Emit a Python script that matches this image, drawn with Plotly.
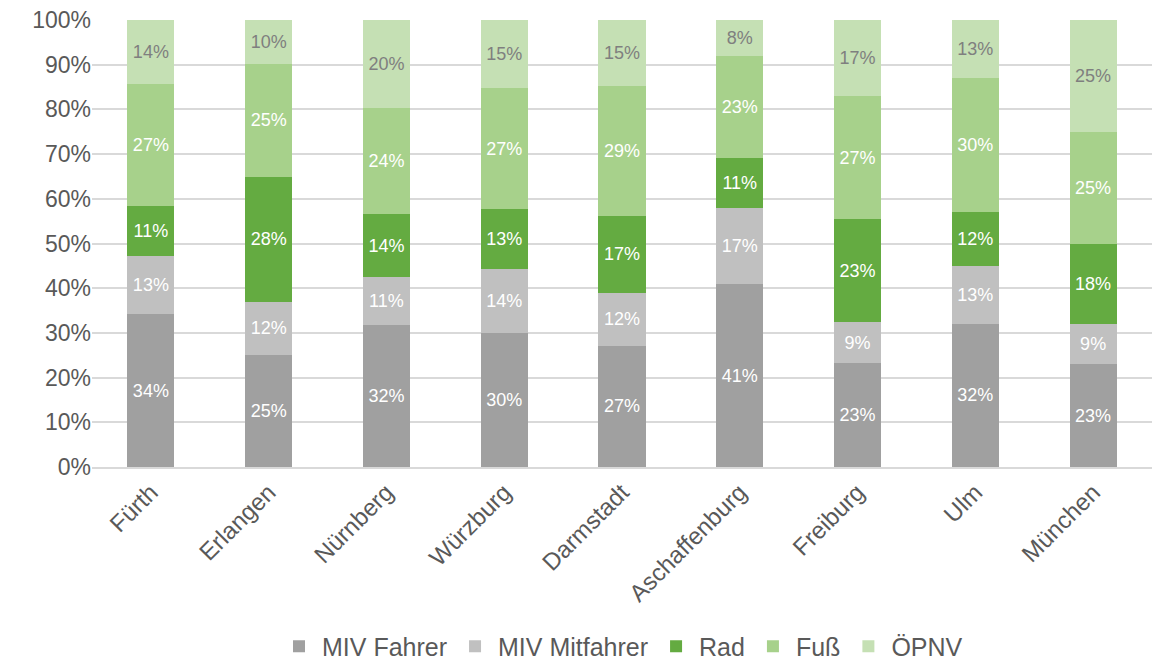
import plotly.graph_objects as go

staedte = ["Fürth", "Erlangen", "Nürnberg", "Würzburg", "Darmstadt",
           "Aschaffenburg", "Freiburg", "Ulm", "München"]

miv_fahrer = [34.2, 25.1, 31.8, 30.0, 27.1, 40.9, 23.3, 32.0, 23.0]
miv_mitfahrer = [13.0, 11.8, 10.7, 14.3, 11.8, 17.0, 9.1, 13.0, 9.0]
rad = [11.2, 28.0, 14.0, 13.4, 17.3, 11.2, 23.1, 12.0, 18.0]
fuss = [27.3, 25.3, 23.8, 27.1, 29.0, 22.8, 27.4, 30.0, 25.0]
oepnv = [14.3, 9.8, 19.7, 15.2, 14.8, 8.1, 17.1, 13.0, 25.0]

y_ticks = list(range(0, 101, 10))
y_labels = [f"{v}%" for v in y_ticks]

serien = [
    ("MIV Fahrer", miv_fahrer, "#a0a0a0", "white"),
    ("MIV Mitfahrer", miv_mitfahrer, "#c0c0c0", "white"),
    ("Rad", rad, "#64ab41", "white"),
    ("Fuß", fuss, "#a7d18b", "white"),
    ("ÖPNV", oepnv, "#c5e0b4", "#7f7f7f"),
]

fig = go.Figure()
for name, werte, farbe, textfarbe in serien:
    fig.add_trace(go.Bar(
        x=staedte, y=werte, name=name,
        marker_color=farbe, marker_line_width=0,
        texttemplate="%{y:.0f}%", textposition="inside",
        insidetextanchor="middle", textangle=0,
        textfont=dict(color=textfarbe, size=18, family="Liberation Sans, Arial"),
        constraintext="none",
    ))

# seite hat 8px body-rand, daher etwas kleiner
fig.update_layout(
    barmode="stack",
    bargap=0.6,
    width=1160, height=660,
    plot_bgcolor="white", paper_bgcolor="white",
    margin=dict(l=84, r=16, t=12, b=201, autoexpand=False),
    font=dict(family="Liberation Sans, Arial", color="#595959", size=22),
    legend=dict(
        orientation="h", x=0.5, xanchor="center", y=-0.35, yanchor="top",
        font=dict(size=25, color="#595959"), traceorder="normal",
        itemwidth=36,
    ),
    xaxis=dict(
        tickangle=-45, showgrid=False, showline=True, automargin=False,
        linecolor="#d9d9d9", linewidth=1.5, ticks="",
        tickfont=dict(size=24, color="#595959"),
    ),
    yaxis=dict(
        range=[0, 100], tickmode="array", tickvals=y_ticks, ticktext=y_labels,
        showgrid=True, gridcolor="#d9d9d9", gridwidth=1.5, automargin=False,
        zeroline=False, showline=False, ticks="", ticklabeloverflow="allow",
        tickfont=dict(size=23, color="#595959"),
    ),
)

fig.write_html("out.html")
